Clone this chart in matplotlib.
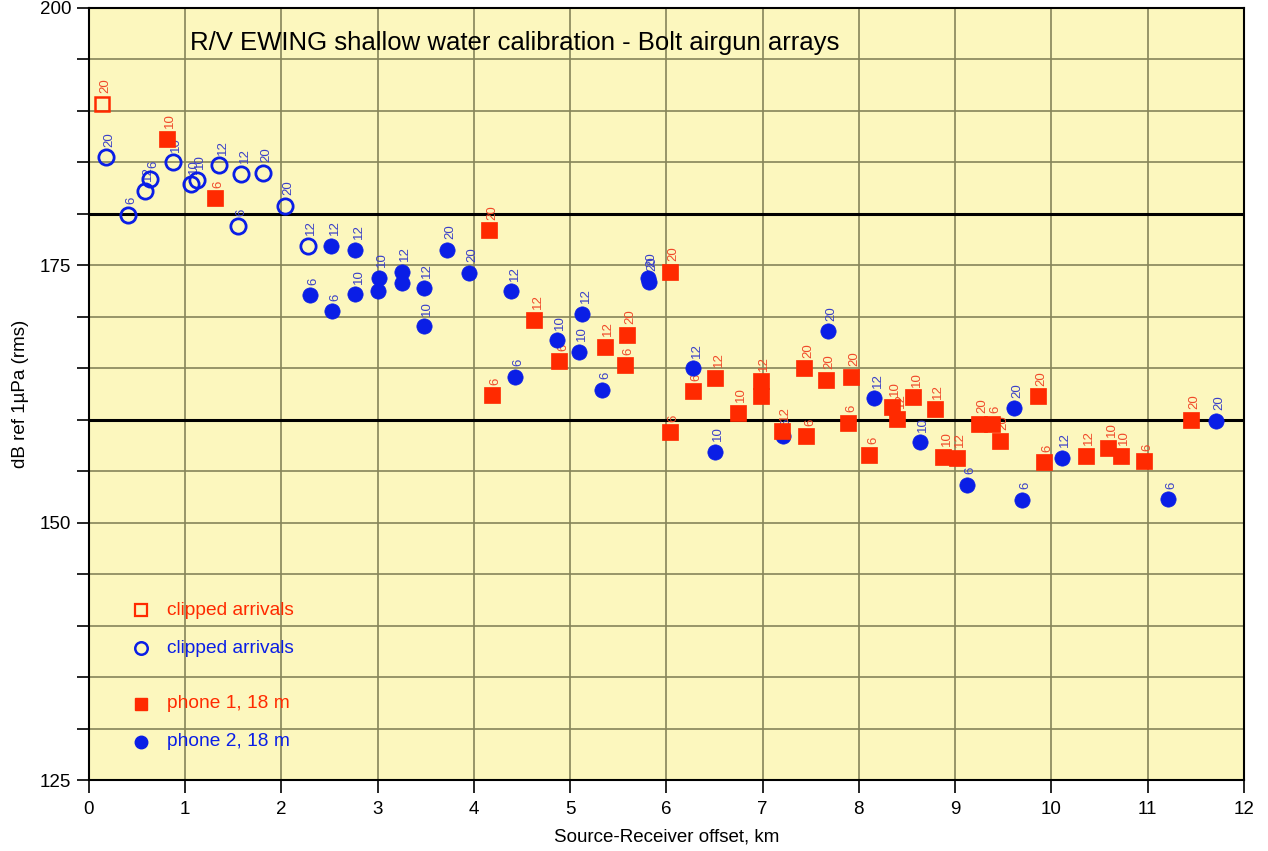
import matplotlib
matplotlib.use("Agg")
import matplotlib.pyplot as plt
from matplotlib.ticker import MultipleLocator

plt.rcParams['font.family'] = ['Liberation Sans', 'DejaVu Sans']

# clipped arrivals, phone 1 (open square)
clip1_x = [0.135]
clip1_y = [190.7]
clip1_lab = ['20']

# clipped arrivals, phone 2 (open circles)
clip2_x = [0.18, 0.405, 0.58, 0.64, 0.873, 1.06, 1.12, 1.354, 1.586, 1.81, 2.04, 1.55, 2.275]
clip2_y = [185.5, 179.9, 182.2, 183.4, 185.0, 182.9, 183.3, 184.7, 183.9, 184.0, 180.8, 178.8, 176.9]
clip2_lab = ['20', '6', '12', '6', '10', '10', '10', '12', '12', '20', '20', '6', '12']

# phone 1, 18 m (filled squares)
p1_x = [0.81, 1.31, 4.16, 4.19, 4.63, 4.89, 5.36, 5.57, 5.59, 6.04, 6.04, 6.28, 6.51,
        6.74, 6.98, 6.986, 7.20, 7.435, 7.456, 7.66, 7.89, 7.92, 8.11, 8.34, 8.40,
        8.565, 8.79, 8.875, 9.015, 9.25, 9.38, 9.465, 9.857, 9.92, 10.355, 10.59,
        10.72, 10.96, 11.45]
p1_y = [187.3, 181.5, 178.4, 162.4, 169.7, 165.7, 167.1, 165.3, 168.25, 174.4, 158.8,
        162.8, 164.1, 160.7, 163.75, 162.3, 158.9, 165.0, 158.4, 163.9, 159.7, 164.2,
        156.6, 161.25, 160.1, 162.2, 161.0, 156.4, 156.3, 159.6, 159.6, 157.95, 162.3,
        155.9, 156.5, 157.3, 156.5, 156.0, 160.0]
p1_lab = ['10', '6', '20', '6', '12', '6', '12', '6', '20', '20', '6', '6', '12',
          '10', '12', '10', '12', '20', '6', '20', '6', '20', '6', '10', '12',
          '10', '12', '10', '12', '20', '6', '20', '20', '6', '12', '10',
          '10', '6', '20']

# phone 2, 18 m (filled circles)
p2_x = [2.30, 2.52, 2.53, 2.77, 2.77, 3.01, 3.006, 3.25, 3.25, 3.48, 3.48, 3.72, 3.95,
        4.39, 4.43, 4.86, 5.09, 5.125, 5.33, 5.81, 5.82, 6.28, 6.505, 7.21, 7.68, 8.16,
        8.63, 9.12, 9.61, 9.69, 10.11, 11.21, 11.71]
p2_y = [172.1, 176.9, 170.55, 176.5, 172.2, 173.8, 172.5, 174.4, 173.3, 172.8, 169.1,
        176.5, 174.3, 172.5, 164.2, 167.7, 166.6, 170.3, 162.9, 173.8, 173.4, 165.0,
        156.9, 158.4, 168.6, 162.1, 157.8, 153.7, 161.1, 152.25, 156.3, 152.3, 159.9]
p2_lab = ['6', '12', '6', '12', '10', '10', '', '12', '', '12', '10', '20', '20',
          '12', '6', '10', '10', '12', '6', '20', '20', '12', '10', '6', '20', '12',
          '10', '6', '20', '6', '12', '6', '20']

ref_lines = [180, 160]

RED = '#FF2A00'
BLUE = '#0A1EE6'
RED_TXT = '#F04A2A'
BLUE_TXT = '#3A40C8'
BG = '#FCF7BE'
GRID = '#86845A'

fig = plt.figure(figsize=(12.68, 8.51), dpi=100)
ax = fig.add_axes([0.070, 0.0834, 0.911, 0.9072])
ax.set_facecolor(BG)

ax.set_xlim(0, 12)
ax.set_ylim(125, 200)
ax.xaxis.set_major_locator(MultipleLocator(1))
ax.yaxis.set_major_locator(MultipleLocator(25))
ax.yaxis.set_minor_locator(MultipleLocator(5))
ax.grid(True, which='both', color=GRID, lw=1.2, zorder=0)
ax.set_axisbelow(True)

for v in ref_lines:
    ax.axhline(v, color='black', lw=2.2, zorder=1)


def labels(xs, ys, labs, color):
    for x, y, t in zip(xs, ys, labs):
        if t:
            ax.annotate(t, (x, y), xytext=(2.5, 7.5), textcoords='offset points',
                        rotation=90, ha='center', va='bottom', fontsize=9.5,
                        color=color, zorder=2)


labels(clip2_x, clip2_y, clip2_lab, BLUE_TXT)
labels(p2_x, p2_y, p2_lab, BLUE_TXT)
labels(clip1_x, clip1_y, clip1_lab, RED_TXT)
labels(p1_x, p1_y, p1_lab, RED_TXT)

ax.plot(clip2_x, clip2_y, 'o', ms=11, mfc='none', mec=BLUE, mew=2, zorder=3)
ax.plot(p2_x, p2_y, 'o', ms=11, mfc=BLUE, mec=BLUE, mew=0.5, zorder=3)
ax.plot(clip1_x, clip1_y, 's', ms=10, mfc='none', mec=RED, mew=1.8, zorder=4)
ax.plot(p1_x, p1_y, 's', ms=11, mfc=RED, mec=RED, mew=0.5, zorder=4)

# manual legend
ax.plot([0.54], [141.5], 's', ms=9, mfc='none', mec=RED, mew=1.6, zorder=4)
ax.plot([0.54], [137.8], 'o', ms=9, mfc='none', mec=BLUE, mew=1.8, zorder=4)
ax.plot([0.54], [132.4], 's', ms=9, mfc=RED, mec=RED, zorder=4)
ax.plot([0.54], [128.7], 'o', ms=9, mfc=BLUE, mec=BLUE, zorder=4)
ax.text(0.81, 141.5, 'clipped arrivals', color=RED, fontsize=13.8, va='center')
ax.text(0.81, 137.8, 'clipped arrivals', color=BLUE, fontsize=13.8, va='center')
ax.text(0.81, 132.4, 'phone 1, 18 m', color=RED, fontsize=13.8, va='center')
ax.text(0.81, 128.7, 'phone 2, 18 m', color=BLUE, fontsize=13.8, va='center')

ax.text(1.05, 196.6, 'R/V EWING shallow water calibration - Bolt airgun arrays',
        fontsize=18.5, va='center', color='black')

ax.tick_params(axis='both', which='major', direction='out', length=9, width=1.2,
               labelsize=13.5, color='black')
ax.tick_params(axis='y', which='minor', direction='out', length=9, width=1.2)
ax.tick_params(axis='x', which='major', pad=6)
for s in ax.spines.values():
    s.set_linewidth(1.5)
    s.set_color('black')

ax.set_xlabel('Source-Receiver offset, km', fontsize=13.5, labelpad=8)
ax.set_ylabel('dB ref 1\u00b5Pa (rms)', fontsize=13.5, labelpad=8)

fig.savefig('out.png', dpi=100)
